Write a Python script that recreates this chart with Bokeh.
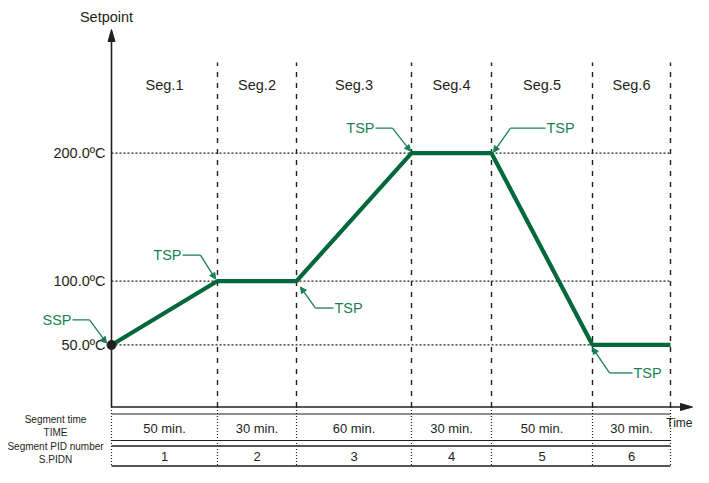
import numpy as np
from bokeh.plotting import figure
from bokeh.models import ColumnDataSource, Range1d, Arrow, NormalHead
from bokeh.core.properties import value
from bokeh.embed import file_html
from bokeh.resources import INLINE

# ---------------- data ----------------
segments = ["Seg.1", "Seg.2", "Seg.3", "Seg.4", "Seg.5", "Seg.6"]
segment_minutes = [50, 30, 60, 30, 50, 30]
segment_pid = [1, 2, 3, 4, 5, 6]
drawn_width = [106, 79, 115, 80, 101, 78]          # schematic widths of the segments as drawn
start_setpoint = 50
target_setpoint = [100, 100, 200, 200, 50, 50]
y_ticks = [200, 100, 50]
y_tick_labels = ["200.0ºC", "100.0ºC", "50.0ºC"]
point_labels = ["SSP", "TSP", "TSP", "TSP", "TSP", "TSP"]
row_labels = ["Segment time", "TIME", "Segment PID number", "S.PIDN"]

# ---------------- layout helpers ----------------
W, H = 693, 467
K = 1.2786                 # pixels per degree
OX = 111                   # picture x of time origin

def lx(ix):                # picture px -> data x
    return ix - OX

def ly(iy):                # picture px -> data y
    return 116.67 - (iy - 259.23) / K

INK = "#231f20"
GREEN = "#00683a"
AGREEN = "#1a7f56"
FONT = "Liberation Sans"

p = figure(width=W, height=H, x_range=Range1d(lx(0), lx(W)),
           y_range=Range1d(ly(H), ly(0)), output_backend="svg",
           toolbar_location=None, min_border=0,
           x_axis_location=None, y_axis_location=None)
p.grid.visible = False
p.outline_line_color = None
p.background_fill_color = "white"
p.border_fill_color = "white"

edges = np.concatenate([[0], np.cumsum(drawn_width)])
mids = (edges[:-1] + edges[1:]) / 2
x_end = edges[-1]

# table rows (picture y)
Y_AXIS = 406.5
Y_THIN = 413.5
Y_ROW1 = 427.5
Y_D1, Y_D2 = 440.0, 445.5
Y_ROW2 = 455.5
Y_BOT = 465.5

# horizontal dotted level lines
p.segment(x0=[0] * len(y_ticks), x1=[x_end] * len(y_ticks), y0=y_ticks, y1=y_ticks,
          line_color=INK, line_width=1.3, line_dash="2 2")

# vertical dashed segment boundaries (chart area)
p.segment(x0=edges[1:], x1=edges[1:], y0=[ly(Y_AXIS)] * 6, y1=[ly(62)] * 6,
          line_color=INK, line_width=1.4, line_dash="5 6")

# vertical dotted lines in the table
p.segment(x0=edges, x1=edges, y0=[ly(Y_AXIS)] * 7, y1=[ly(Y_BOT)] * 7,
          line_color=INK, line_width=1.2, line_dash="1 2")

# axes
p.segment(x0=[0], x1=[0], y0=[ly(Y_AXIS)], y1=[ly(38)], line_color=INK, line_width=1.6)
p.patch(x=[0, -3.5, 3.5], y=[ly(29), ly(41), ly(41)], color=INK)
p.segment(x0=[0], x1=[lx(682)], y0=[ly(Y_AXIS)], y1=[ly(Y_AXIS)], line_color=INK, line_width=1.6)
p.patch(x=[lx(692), lx(680), lx(680)], y=[ly(Y_AXIS), ly(Y_AXIS - 3.5), ly(Y_AXIS + 3.5)], color=INK)

# table lines
p.segment(x0=[0], x1=[x_end], y0=[ly(Y_THIN)], y1=[ly(Y_THIN)], line_color=INK, line_width=1.2)
p.segment(x0=[0], x1=[x_end], y0=[ly(Y_D1)], y1=[ly(Y_D1)], line_color=INK, line_width=1.2)
p.segment(x0=[0], x1=[x_end], y0=[ly(Y_D2)], y1=[ly(Y_D2)], line_color="#555555", line_width=2.2)
p.segment(x0=[0], x1=[x_end], y0=[ly(Y_BOT)], y1=[ly(Y_BOT)], line_color="#555555", line_width=2.2)

# setpoint profile
prof_x = edges
prof_y = [start_setpoint] + target_setpoint
p.line(prof_x, prof_y, line_color=GREEN, line_width=4.2)
p.scatter(x=[prof_x[0]], y=[prof_y[0]], size=9, color=INK)

# annotations (leader layout offsets in px: tip, elbow, end, text align)
ann_layout = [
    ((-5, -2), (-22, -25), (-39, -25), "right"),
    ((-2, -2), (-17, -26), (-35, -26), "right"),
    ((4, 6), (19, 27), (37, 27), "left"),
    ((-1, -2), (-19, -25), (-36, -25), "right"),
    ((2, -1), (19, -25), (54, -25), "left"),
    ((0, 3), (17, 28), (40, 28), "left"),
]
tx, ty, ta = [], [], []
for (label, px, py, lay) in zip(point_labels, prof_x[:-1], prof_y[:-1], ann_layout):
    (tdx, tdy), (edx, edy), (ndx, ndy), align = lay
    tipx, tipy = px + tdx, py - tdy / K
    elx, ely = px + edx, py - edy / K
    enx, eny = px + ndx, py - ndy / K
    p.segment(x0=[elx], x1=[enx], y0=[ely], y1=[eny], line_color=AGREEN, line_width=1.3)
    p.add_layout(Arrow(end=NormalHead(size=6, fill_color=AGREEN, line_color=AGREEN),
                       x_start=elx, y_start=ely, x_end=tipx, y_end=tipy,
                       line_color=AGREEN, line_width=1.3))
    tx.append(enx + (1 if align == "left" else -1))
    ty.append(eny)
    ta.append(align)
p.text(x="x", y="y", text="t", text_align="a",
       source=ColumnDataSource(dict(x=tx, y=ty, t=point_labels, a=ta)),
       text_font=value(FONT), text_font_size="14.5px", text_color=AGREEN,
       text_baseline="middle")

# segment titles
p.text(x=mids, y=[ly(84)] * 6, text=segments, text_align="center", text_baseline="middle",
       text_font=value(FONT), text_font_size="14.5px", text_color=INK)

# y tick labels
p.text(x=[lx(105)] * 3, y=y_ticks, text=y_tick_labels, text_align="right",
       text_baseline="middle", text_font=value(FONT), text_font_size="14.5px", text_color=INK)

# axis titles
p.text(x=[lx(106)], y=[ly(16)], text=["Setpoint"], text_align="center", text_baseline="middle",
       text_font=value(FONT), text_font_size="14.5px", text_color=INK)
p.text(x=[lx(692)], y=[ly(422)], text=["Time"], text_align="right", text_baseline="middle",
       text_font=value(FONT), text_font_size="12px", text_color=INK)

# table contents
p.text(x=mids, y=[ly(Y_ROW1)] * 6, text=[f"{m} min." for m in segment_minutes],
       text_align="center", text_baseline="middle",
       text_font=value(FONT), text_font_size="13px", text_color=INK)
p.text(x=mids, y=[ly(Y_ROW2)] * 6, text=[str(n) for n in segment_pid],
       text_align="center", text_baseline="middle",
       text_font=value(FONT), text_font_size="13px", text_color=INK)
p.text(x=[lx(55)] * 4, y=[ly(418.5), ly(431.5), ly(446), ly(459)], text=row_labels,
       text_align="center", text_baseline="middle",
       text_font=value(FONT), text_font_size="10px", text_color=INK)

open("out.html", "w").write(file_html(p, INLINE))
